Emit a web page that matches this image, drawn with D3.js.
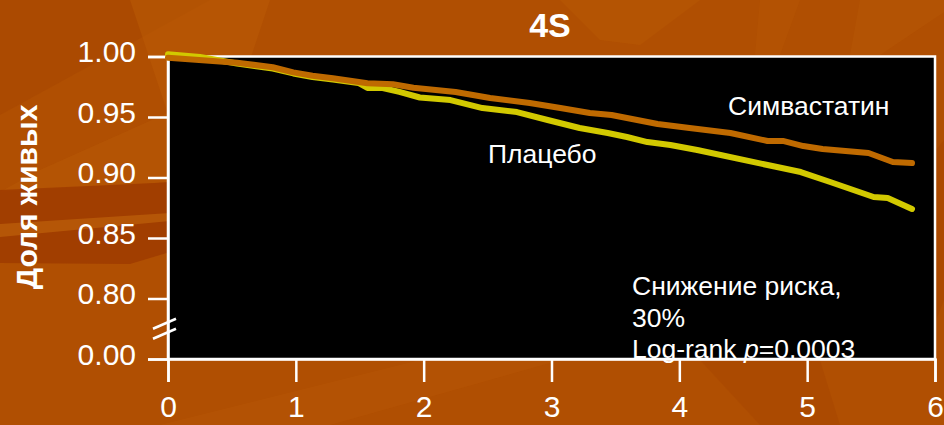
<!DOCTYPE html>
<html>
<head>
<meta charset="utf-8">
<script src="https://cdn.jsdelivr.net/npm/d3@7/dist/d3.min.js"></script>
<style>
  html, body { margin: 0; padding: 0; background: #b04f02; }
  svg { display: block; }
  text { font-family: "Liberation Sans", Arial, sans-serif; fill: #ffffff; }
</style>
</head>
<body>
<svg id="chart" width="944" height="425"></svg>
<script>
// Survival curves, 4S trial (years of follow-up vs. proportion alive)
const simvaYears   = [0, 0.54, 0.82, 0.98, 1.13, 1.29, 1.56, 1.76, 1.92, 2.25, 2.52, 2.83, 3.07, 3.30, 3.47, 3.83, 4.08, 4.40, 4.69, 4.81, 4.97, 5.12, 5.48, 5.67, 5.82];
const simvaAlive   = [0.999, 0.9949, 0.9911, 0.9869, 0.9841, 0.9820, 0.9779, 0.9770, 0.9742, 0.9707, 0.9657, 0.9616, 0.9574, 0.9533, 0.9517, 0.9442, 0.9409, 0.9368, 0.9302, 0.9302, 0.9260, 0.9236, 0.9202, 0.9128, 0.9120];
const placeboYears = [0, 0.25, 0.54, 0.82, 0.98, 1.13, 1.29, 1.49, 1.56, 1.68, 1.81, 1.97, 2.21, 2.46, 2.73, 2.97, 3.22, 3.44, 3.59, 3.75, 3.93, 4.14, 4.69, 4.95, 5.18, 5.52, 5.63, 5.82];
const placeboAlive = [1.0018, 0.9996, 0.9942, 0.9901, 0.9860, 0.9831, 0.9810, 0.9781, 0.9740, 0.9740, 0.9707, 0.9661, 0.9640, 0.9574, 0.9541, 0.9475, 0.9409, 0.9368, 0.9335, 0.9293, 0.9269, 0.9227, 0.9103, 0.9045, 0.8963, 0.8839, 0.8831, 0.8740];

const xTicks = [0, 1, 2, 3, 4, 5, 6];
// the lowest tick sits at the broken-axis position and is labelled 0.00
const yTickValues = [1.00, 0.95, 0.90, 0.85, 0.80, 0.75];
const yTickLabels = ["1.00", "0.95", "0.90", "0.85", "0.80", "0.00"];

const svg = d3.select("#chart");
const W = 944, H = 425;

// ---- background panel with soft swooshes ----
const bg = svg.append("g");
bg.append("rect").attr("width", W).attr("height", H).attr("fill", "#b04f02");
const swooshes = [
  { pts: [[0,0],[210,0],[0,115]], fill: "#a64600", op: 0.5 },
  { pts: [[130,0],[270,0],[250,60],[170,120]], fill: "#bc5c06", op: 0.5 },
  { pts: [[40,170],[170,112],[170,182],[0,192]], fill: "#b85806", op: 0.6 },
  { pts: [[0,190],[155,183],[170,182],[170,252],[130,264],[0,263]], fill: "#9e3a00", op: 0.8 },
  { pts: [[0,224],[170,213],[170,221],[0,237]], fill: "#b95a08", op: 0.85 },
  { pts: [[560,0],[700,0],[640,45],[600,40]], fill: "#bb5a05", op: 0.45 },
  { pts: [[760,0],[800,0],[780,55],[755,55]], fill: "#b95806", op: 0.4 },
  { pts: [[860,0],[944,0],[944,12],[880,55],[850,55]], fill: "#ba5a08", op: 0.4 },
  { pts: [[160,425],[420,360],[560,360],[330,425]], fill: "#b85606", op: 0.45 },
  { pts: [[700,360],[820,360],[840,425],[760,425]], fill: "#a54400", op: 0.4 },
  { pts: [[936,150],[944,140],[944,300],[936,320]], fill: "#a64600", op: 0.5 }
];
bg.selectAll("polygon").data(swooshes).join("polygon")
  .attr("points", d => d.pts.map(p => p.join(",")).join(" "))
  .attr("fill", d => d.fill)
  .attr("opacity", d => d.op);

// ---- scales ----
const x = d3.scaleLinear().domain([0, 6]).range([168, 935]);
const y = d3.scaleLinear().domain([0.75, 1.0]).range([359, 56.5]);

// plot area
svg.append("rect")
  .attr("x", x(0)).attr("y", y(1.0))
  .attr("width", x(6) - x(0)).attr("height", y(0.75) - y(1.0))
  .attr("fill", "#000000")
  .attr("stroke", "#ffffff").attr("stroke-width", 2.5);

// ---- axes ----
const yAxis = d3.axisLeft(y)
  .tickValues(yTickValues)
  .tickFormat((d, i) => yTickLabels[i])
  .tickSize(20).tickPadding(12);
const gy = svg.append("g").attr("transform", `translate(${x(0)},0)`).call(yAxis);
gy.select(".domain").attr("stroke", "#fff").attr("stroke-width", 2.5);
gy.selectAll(".tick line").attr("stroke", "#fff").attr("stroke-width", 2.5);
gy.selectAll(".tick text")
  .attr("font-size", 30).attr("fill", "#fff")
  .attr("font-family", "Liberation Sans, Arial, sans-serif")
  .attr("dy", "0.18em");

const xAxis = d3.axisBottom(x).tickValues(xTicks).tickFormat(d3.format("d"))
  .tickSize(23).tickPadding(14);
const gx = svg.append("g").attr("transform", `translate(0,${y(0.75)})`).call(xAxis);
gx.select(".domain").attr("stroke", "#fff").attr("stroke-width", 2.5);
gx.selectAll(".tick line").attr("stroke", "#fff").attr("stroke-width", 2.5);
gx.selectAll(".tick text")
  .attr("font-size", 30).attr("fill", "#fff")
  .attr("font-family", "Liberation Sans, Arial, sans-serif");

// axis break marks between 0.80 and 0.00
const brkY = y(0.775);
[-5, 5].forEach(off => {
  svg.append("line")
    .attr("x1", x(0) - 15).attr("y1", brkY + off + 5)
    .attr("x2", x(0) + 8).attr("y2", brkY + off - 5)
    .attr("stroke", "#fff").attr("stroke-width", 2.5);
});

// ---- survival curves ----
const line = d3.line().x(d => x(d[0])).y(d => y(d[1])).curve(d3.curveLinear);
const placebo = placeboYears.map((t, i) => [t, placeboAlive[i]]);
const simva = simvaYears.map((t, i) => [t, simvaAlive[i]]);

svg.append("path").datum(placebo).attr("d", line)
  .attr("fill", "none").attr("stroke", "#d2c900").attr("stroke-width", 6)
  .attr("stroke-linejoin", "round").attr("stroke-linecap", "round");
svg.append("path").datum(simva).attr("d", line)
  .attr("fill", "none").attr("stroke", "#bf6a00").attr("stroke-width", 6)
  .attr("stroke-linejoin", "round").attr("stroke-linecap", "round");

// ---- labels ----
svg.append("text").attr("x", 550).attr("y", 37).attr("text-anchor", "middle")
  .attr("font-size", 34).attr("font-weight", "bold").text("4S");

svg.append("text")
  .attr("transform", "translate(37,197) rotate(-90)")
  .attr("text-anchor", "middle")
  .attr("font-size", 30).attr("font-weight", "bold")
  .text("Доля живых");

svg.append("text").attr("x", 728).attr("y", 115).attr("font-size", 26.5).text("Симвастатин");
svg.append("text").attr("x", 488).attr("y", 163).attr("font-size", 26.5).text("Плацебо");

const note = svg.append("g").attr("font-size", 26.5);
note.append("text").attr("x", 632).attr("y", 295).text("Снижение риска,");
note.append("text").attr("x", 632).attr("y", 326.5).text("30%");
const lr = note.append("text").attr("x", 632).attr("y", 358);
lr.append("tspan").text("Log-rank ");
lr.append("tspan").attr("font-style", "italic").text("p");
lr.append("tspan").text("=0.0003");
</script>
</body>
</html>
